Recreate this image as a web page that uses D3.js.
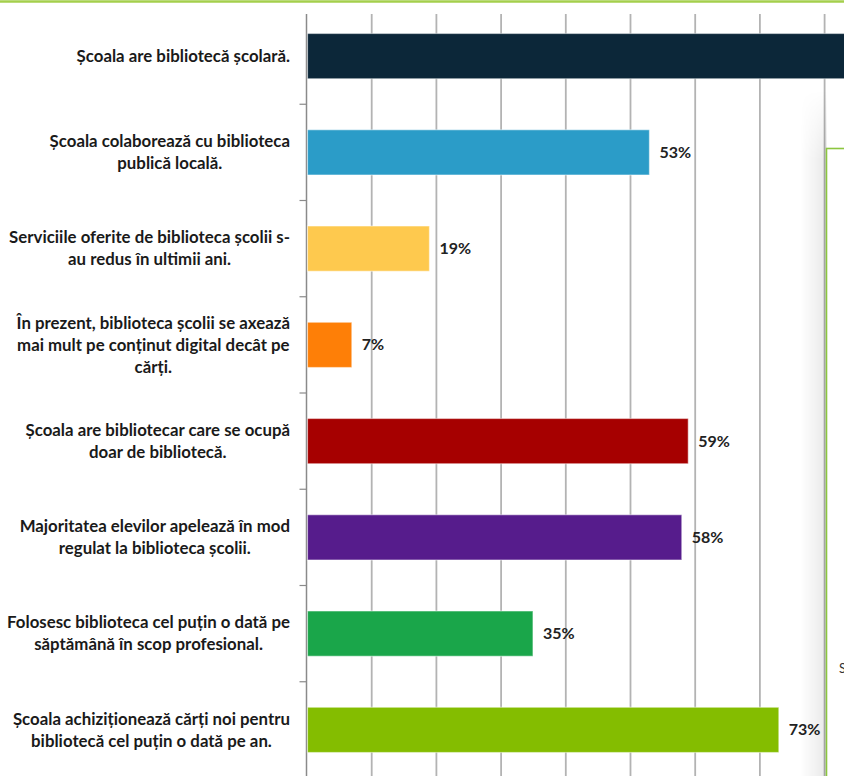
<!DOCTYPE html>
<html>
<head>
<meta charset="utf-8">
<script src="https://cdn.jsdelivr.net/npm/d3@7"></script>
<style>
  body { margin: 0; background: #fff; }
  svg { display: block; }
</style>
</head>
<body>
<svg id="chart" width="844" height="776"></svg>
<script>
// ---------- data ----------
const categories = [
  ['Școala are bibliotecă școlară.'],
  ['Școala colaborează cu biblioteca', 'publică locală.'],
  ['Serviciile oferite de biblioteca școlii s-', 'au redus în ultimii ani.'],
  ['În prezent, biblioteca școlii se axează', 'mai mult pe conținut digital decât pe', 'cărți.'],
  ['Școala are bibliotecar care se ocupă', 'doar de bibliotecă.'],
  ['Majoritatea elevilor apelează în mod', 'regulat la biblioteca școlii.'],
  ['Folosesc biblioteca cel puțin o dată pe', 'săptămână în scop profesional.'],
  ['Școala achiziționează cărți noi pentru', 'bibliotecă cel puțin o dată pe an.']
]
const values = [89, 53, 19, 7, 59, 58, 35, 73]
const colors = ['#0c2739', '#2b9cc8', '#fec94e', '#fe7f07', '#a60000', '#561c8c', '#1aa64a', '#84bd00']
const xTicks = [10, 20, 30, 40, 50, 60, 70, 80, 90]

// ---------- layout ----------
const W = 844
const H = 776
const axisX = 306.5
const labelRight = 290
const FONT = 'Lato, "Open Sans", sans-serif'
const squeeze = 1.02

const svg = d3.select('#chart')
const keys = categories.map((d, i) => 'c' + i)

const x = d3.scaleLinear().domain([0, 100]).range([axisX, axisX + 647])
const y = d3.scaleBand().domain(keys).range([8, 778]).paddingInner(0.53).paddingOuter(0.265)

/* top green frame line */
svg.append('line')
  .attr('x1', 0).attr('x2', W).attr('y1', 1.5).attr('y2', 1.5)
  .attr('stroke', '#a4cf4c').attr('stroke-width', 2.5)

/* gridlines */
svg.append('g')
  .attr('transform', 'translate(0,14)')
  .call(d3.axisTop(x).tickValues(xTicks).tickSize(-(H - 14)).tickFormat(''))
  .call(g => g.select('.domain').remove())
  .selectAll('.tick line')
  .attr('stroke', '#b3b3b3')
  .attr('stroke-width', 1.8)

/* category axis with ticks on band boundaries */
const yAxis = svg.append('g')
  .attr('transform', `translate(${axisX},0)`)
  .call(d3.axisLeft(y).tickSize(0).tickFormat(''))
yAxis.select('.domain')
  .attr('d', `M0,14V${H}`)
  .attr('stroke', '#8a8a8a')
  .attr('stroke-width', 1.5)
const gap = (y.step() - y.bandwidth()) / 2
yAxis.selectAll('.bound')
  .data(keys)
  .enter().append('line')
  .attr('class', 'bound')
  .attr('x1', -7).attr('x2', 0)
  .attr('y1', d => y(d) + y.bandwidth() + gap)
  .attr('y2', d => y(d) + y.bandwidth() + gap)
  .attr('stroke', '#8a8a8a')
  .attr('stroke-width', 1.2)

/* bars */
svg.selectAll('.bar')
  .data(values)
  .enter().append('rect')
  .attr('class', 'bar')
  .attr('x', x(0) + 1)
  .attr('y', (d, i) => y(keys[i]))
  .attr('width', d => x(d) - x(0) - 1)
  .attr('height', y.bandwidth())
  .attr('fill', (d, i) => colors[i])
  .attr('stroke', 'rgba(255,255,255,0.45)')
  .attr('stroke-width', 1.2)

/* value labels (the first one falls past the crop, as in the original) */
svg.selectAll('.val')
  .data(values.map((v, i) => ({v, i})).filter(d => x(d.v) + 10 < W))
  .enter().append('text')
  .attr('class', 'val')
  .attr('x', d => x(d.v) + 10)
  .attr('y', d => y(keys[d.i]) + y.bandwidth() / 2)
  .attr('dy', '0.35em')
  .style('font-family', FONT)
  .style('font-size', '16px')
  .style('font-weight', 700)
  .style('fill', '#222')
  .text(d => d.v + '%')

/* category labels: block right-aligned, lines centred within block */
const lineH = 22
categories.forEach((lines, i) => {
  const cy = y(keys[i]) + y.bandwidth() / 2
  const g = svg.append('g')
    .attr('transform', `translate(${labelRight},0) scale(${squeeze},1)`)
  const t = g.selectAll('text')
    .data(lines)
    .enter().append('text')
    .attr('y', (d, j) => cy + (j - (lines.length - 1) / 2) * lineH)
    .attr('dy', '0.35em')
    .attr('text-anchor', 'middle')
    .style('font-family', FONT)
    .style('font-size', '16.5px')
    .style('font-weight', 700)
    .style('fill', '#1a1a1a')
    .text(d => d)
  let maxW = 0
  t.each(function () { maxW = Math.max(maxW, this.getComputedTextLength()) })
  t.attr('x', -maxW / 2)
})

/* right overlay panel with soft shadow */
const defs = svg.append('defs')
const grad = defs.append('linearGradient').attr('id', 'shade')
grad.append('stop').attr('offset', '0%').attr('stop-color', '#000').attr('stop-opacity', 0)
grad.append('stop').attr('offset', '100%').attr('stop-color', '#000').attr('stop-opacity', 0.09)
const vgrad = defs.append('linearGradient').attr('id', 'vfade')
  .attr('x1', 0).attr('x2', 0).attr('y1', 0).attr('y2', 1)
vgrad.append('stop').attr('offset', '0%').attr('stop-color', '#fff').attr('stop-opacity', 0)
vgrad.append('stop').attr('offset', '100%').attr('stop-color', '#fff').attr('stop-opacity', 1)
const mask = defs.append('mask').attr('id', 'fadeMask')
mask.append('rect').attr('x', 790).attr('y', 90).attr('width', 40).attr('height', 70).attr('fill', 'url(#vfade)')
mask.append('rect').attr('x', 790).attr('y', 160).attr('width', 40).attr('height', H).attr('fill', '#fff')

svg.append('rect')
  .attr('x', 800).attr('y', 90).attr('width', 27).attr('height', H)
  .attr('fill', 'url(#shade)')
  .attr('mask', 'url(#fadeMask)')

svg.append('rect')
  .attr('x', 826.5).attr('y', 148.5).attr('width', 40).attr('height', H)
  .attr('fill', '#fff')
  .attr('stroke', '#8cc63f')
  .attr('stroke-width', 1.6)

svg.append('text')
  .attr('x', 839).attr('y', 673)
  .style('font-family', FONT)
  .style('font-size', '13px')
  .style('fill', '#333')
  .text('S')
</script>
</body>
</html>
